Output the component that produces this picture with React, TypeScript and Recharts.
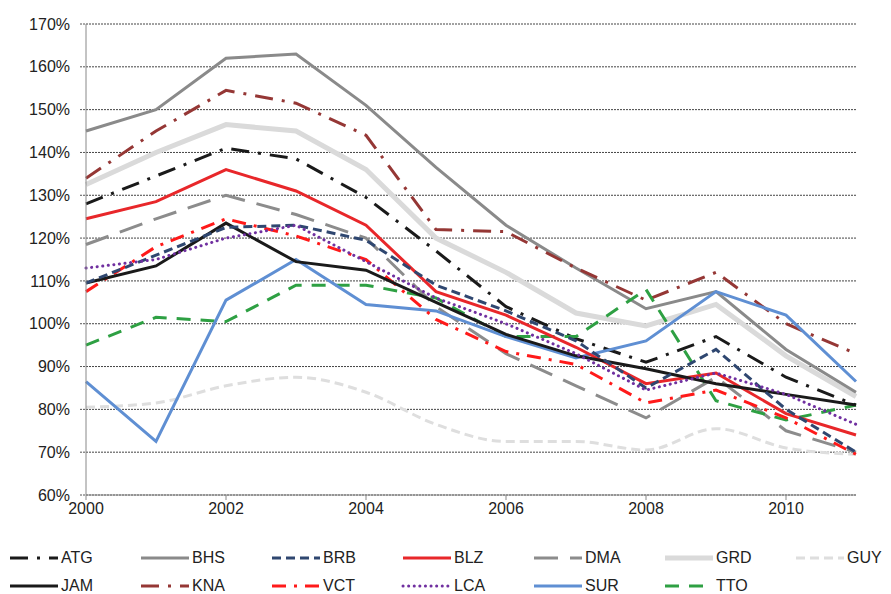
import React from "react";
import { LineChart, Line, XAxis, YAxis, CartesianGrid } from "recharts";

const years = [2000, 2001, 2002, 2003, 2004, 2005, 2006, 2007, 2008, 2009, 2010, 2011];

const atg = [128, 134.5, 141, 138.5, 129.5, 117, 104, 96.5, 91, 97, 87.5, 81];
const bhs = [145, 150, 162, 163, 151, 136.5, 123, 113, 103.5, 107.5, 94, 84];
const brb = [109.5, 116, 122.5, 123, 119.5, 109, 103, 96, 85, 94, 80, 70];
const blz = [124.5, 128.5, 136, 131, 123, 107.5, 102, 94.5, 86, 88.5, 79, 74];
const dma = [118.5, 124.5, 130, 125.5, 120, 104, 93, 85.5, 78, 87.5, 75, 70];
const grd = [132.5, 140, 146.5, 145, 136, 120, 112, 102.5, 99.5, 104.5, 92.5, 83];
const guy = [80.5, 81.5, 85.5, 87.5, 84, 76.5, 72.5, 72.5, 70.5, 75.5, 71, 69.5];
const jam = [109.5, 113.5, 123.5, 114.5, 112.5, 105, 97.5, 92.5, 89.5, 86, 83.5, 81];
const kna = [134, 145, 154.5, 151.5, 144, 122, 121.5, 113, 105.5, 112, 100, 93];
const vct = [107.5, 118, 124.5, 120.5, 115, 101, 93.5, 90.5, 81.5, 84.5, 78, 69.5];
const lca = [113, 115, 120, 123, 114.5, 106, 100, 93, 84.5, 88.5, 83.5, 76.5];
const sur = [86.5, 72.5, 105.5, 115, 104.5, 103, 97, 92, 96, 107.5, 102, 86.5];
const tto = [95, 101.5, 100.5, 109, 109, 106, 97, 97, 108, 82, 77.5, 81];

const yTicks = [60, 70, 80, 90, 100, 110, 120, 130, 140, 150, 160, 170];
const xTicks = [2000, 2002, 2004, 2006, 2008, 2010];

type Style = {
  key: string;
  values: number[];
  color: string;
  width: number;
  dash?: string;
  cap?: "round" | "butt";
  smooth?: boolean;
};

const series: Style[] = [
  { key: "GUY", values: guy, color: "#dedede", width: 3, dash: "9 5", smooth: true },
  { key: "GRD", values: grd, color: "#dadada", width: 5 },
  { key: "BHS", values: bhs, color: "#8a8a8a", width: 3 },
  { key: "KNA", values: kna, color: "#953735", width: 3, dash: "18 9 3 9" },
  { key: "ATG", values: atg, color: "#1a1a1a", width: 3, dash: "18 9 3 9" },
  { key: "DMA", values: dma, color: "#8c8c8c", width: 3, dash: "24 12" },
  { key: "TTO", values: tto, color: "#2ea043", width: 3, dash: "14 10" },
  { key: "SUR", values: sur, color: "#5f8fd3", width: 3 },
  { key: "BLZ", values: blz, color: "#e8272a", width: 3 },
  { key: "VCT", values: vct, color: "#ff1a1a", width: 3, dash: "14 8 3 8" },
  { key: "JAM", values: jam, color: "#1a1a1a", width: 3 },
  { key: "BRB", values: brb, color: "#2f4770", width: 3, dash: "9 5" },
  { key: "LCA", values: lca, color: "#7030a0", width: 3, dash: "0.1 5.5", cap: "round" },
];

const legendOrder = [
  "ATG", "BHS", "BRB", "BLZ", "DMA", "GRD", "GUY",
  "JAM", "KNA", "VCT", "LCA", "SUR", "TTO",
];

const data = years.map((year, i) => {
  const row: Record<string, number> = { year };
  series.forEach((s) => {
    row[s.key] = s.values[i];
  });
  return row;
});

const font = "'Liberation Sans', Arial, sans-serif";

function LegendItem({ s }: { s: Style }) {
  return (
    <div style={{ display: "flex", alignItems: "center", height: 28, whiteSpace: "nowrap" }}>
      <svg width={53} height={10}>
        <line
          x1={2}
          y1={5}
          x2={50}
          y2={5}
          stroke={s.color}
          strokeWidth={s.width}
          strokeDasharray={s.dash}
          strokeLinecap={s.cap ?? "butt"}
        />
      </svg>
      <span style={{ fontSize: 16, color: "#222" }}>{s.key}</span>
    </div>
  );
}

export default function App() {
  return (
    <div style={{ fontFamily: font, width: 883 }}>
      <LineChart
        width={883}
        height={530}
        data={data}
        margin={{ top: 16, right: 35, bottom: 13, left: 0 }}
      >
        <CartesianGrid
          vertical={false}
          stroke="#444"
          strokeDasharray="2 1"
        />
        <XAxis
          dataKey="year"
          type="number"
          domain={[2000, 2011]}
          ticks={xTicks}
          height={30}
          tickSize={5}
          tickMargin={3}
          axisLine={{ stroke: "#888" }}
          tickLine={{ stroke: "#888" }}
          tick={{ fontSize: 16, fill: "#222", fontFamily: font }}
        />
        <YAxis
          domain={[60, 170]}
          ticks={yTicks}
          width={78}
          tickSize={6}
          tickMargin={10}
          axisLine={{ stroke: "#888" }}
          tickLine={{ stroke: "#555", strokeDasharray: "2 1" }}
          tickFormatter={(v: number) => `${v}%`}
          tick={{ fontSize: 16, fill: "#222", fontFamily: font }}
        />
        {series.map((s) => (
          <Line
            key={s.key}
            dataKey={s.key}
            type={s.smooth ? "monotone" : "linear"}
            stroke={s.color}
            strokeWidth={s.width}
            strokeDasharray={s.dash}
            strokeLinecap={s.cap ?? "butt"}
            dot={false}
            isAnimationActive={false}
          />
        ))}
      </LineChart>
      <div
        style={{
          display: "grid",
          gridTemplateColumns: "repeat(7, 131px)",
          marginTop: 6,
        }}
      >
        {legendOrder.map((k) => (
          <LegendItem key={k} s={series.find((s) => s.key === k)!} />
        ))}
      </div>
    </div>
  );
}
